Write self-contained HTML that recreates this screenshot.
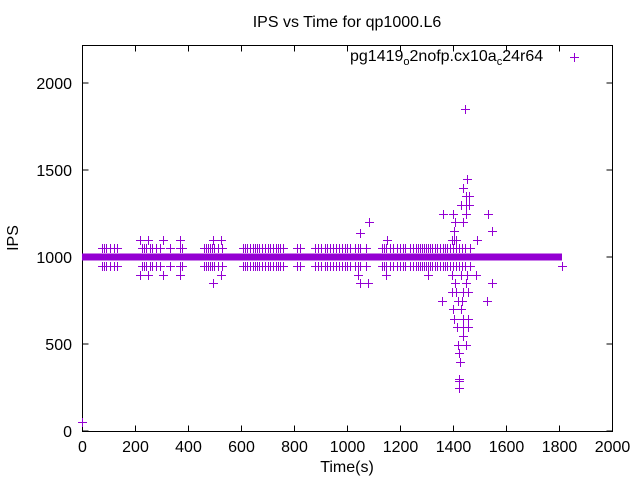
<!DOCTYPE html>
<html><head><meta charset="utf-8"><style>
html,body{margin:0;padding:0;background:#fff}
svg text{font-family:"Liberation Sans",sans-serif;fill:#000}
</style></head><body>
<svg id="s" width="640" height="480" viewBox="0 0 640 480" xmlns="http://www.w3.org/2000/svg">
<rect width="640" height="480" fill="#fff"/>
<text x="347" y="27" font-size="16" text-anchor="middle">IPS vs Time for qp1000.L6</text>
<g font-size="16" text-anchor="end">
<text x="72" y="437">0</text><text x="72" y="350">500</text><text x="72" y="263">1000</text>
<text x="72" y="176">1500</text><text x="72" y="89">2000</text>
</g>
<g font-size="16" text-anchor="middle">
<text x="82.5" y="452">0</text><text x="135.5" y="452">200</text><text x="188.5" y="452">400</text>
<text x="241.5" y="452">600</text><text x="294.5" y="452">800</text><text x="347.5" y="452">1000</text>
<text x="400.5" y="452">1200</text><text x="453.5" y="452">1400</text><text x="506.5" y="452">1600</text>
<text x="559.5" y="452">1800</text><text x="612.5" y="452">2000</text>
<text x="347" y="472">Time(s)</text>
</g>
<text x="18" y="238" font-size="16" text-anchor="middle" transform="rotate(-90 18 238)">IPS</text>
<text x="350" y="61" font-size="16">pg1419<tspan font-size="11" dy="4">o</tspan><tspan dy="-4">2nofp.cx10a</tspan><tspan font-size="11" dy="4">c</tspan><tspan dy="-4">24r64</tspan></text>
<g id="ticks" stroke="#000" stroke-width="1"></g>
<rect x="82.5" y="45.5" width="530" height="386" fill="none" stroke="#000" stroke-width="1"/>
<rect x="82" y="253.5" width="480" height="7" fill="#9400d3"/>
<g id="pts" stroke="#9400d3" stroke-width="1" fill="none" shape-rendering="crispEdges"></g>
</svg>
<script>
var t=document.getElementById('ticks'),h='';
for(var i=0;i<=10;i++){var x=82.5+53*i;h+='<line x1="'+x+'" y1="431.5" x2="'+x+'" y2="425.5"/><line x1="'+x+'" y1="45.5" x2="'+x+'" y2="51.5"/>';}
for(var j=0;j<=4;j++){var y=431-87*j;h+='<line x1="82.5" y1="'+y+'" x2="88.5" y2="'+y+'"/><line x1="612.5" y1="'+y+'" x2="606.5" y2="'+y+'"/>';}
t.innerHTML=h;
var P=[];
var xs=[102,104,106,110,114,117,142,144,146,150,152,156,160,170,180,182,204,206,208,210,212,214,218,222,243,245,247,250,253,255,257,259,262,265,268,270,273,276,278,280,283,297,300,315,318,321,325,327,330,333,336,339,342,345,347,350,355,358,360,366,382,384,386,390,393,397,400,403,405,410,413,416,418,420,422,424,426,428,430,432,435,437,440,443,445,447,450,453,456,459,462,465,470];
xs.forEach(function(x){P.push([x,248],[x,266]);});
[[140,240],[148,240],[163,240],[180,240],[213,240],[221,240],[140,275],[148,275],[163,275],[180,275],[221,275],[213,283],[82,422],[574,57],[562,266],
[369,222],[360,233],[387,240],[358,275],[386,275],[428,275],[360,283],[368,283],
[465,109],[467,179],[463,188],[466,196],[469,196],[461,205],[466,205],[469,205],[443,214],[453,214],[466,214],[488,214],
[455,222],[463,222],[454,231],[492,231],[452,240],[454,240],[456,240],[477,240],
[452,275],[461,275],[467,275],[476,275],[455,283],[466,283],[492,283],[452,292],[456,292],[463,292],[468,292],
[442,301],[458,301],[462,301],[487,301],[453,309],[461,309],[454,319],[463,319],[468,319],[457,327],[463,327],[468,327],
[463,336],[458,345],[466,345],[459,353],[460,362],[459,379],[459,381],[459,388]].forEach(function(p){P.push(p);});
var g='';P.forEach(function(p){g+='M'+(p[0]-4)+' '+(p[1]+0.5)+'h9M'+(p[0]+0.5)+' '+(p[1]-4)+'v9';});
document.getElementById('pts').innerHTML='<path d="'+g+'"/>';
</script>
</body></html>
